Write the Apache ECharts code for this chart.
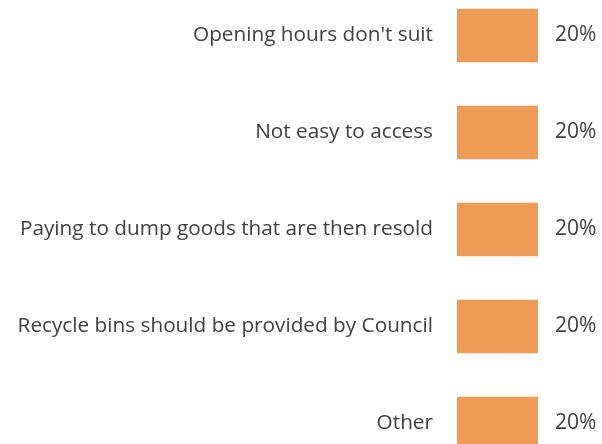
<!DOCTYPE html>
<html>
<head>
<meta charset="utf-8">
<script src="https://cdn.jsdelivr.net/npm/echarts@6/dist/echarts.min.js"></script>
<style>
  html, body { margin: 0; padding: 0; background: #fff; overflow: hidden; }
  #frame { position: relative; width: 602px; height: 444px; overflow: hidden; }
  /* the plot runs a little past the top and bottom edges */
  #chart { position: absolute; left: 0; top: -13px; width: 602px; height: 485px; }
</style>
</head>
<body>
<div id="frame"><div id="chart"></div></div>
<script>
// Reasons given, and the share of respondents citing each (percent)
const categories = [
  "Opening hours don't suit",
  "Not easy to access",
  "Paying to dump goods that are then resold",
  "Recycle bins should be provided by Council",
  "Other"
];
const shares = [20, 20, 20, 20, 20];

const chart = echarts.init(document.getElementById('chart'), null, { renderer: 'canvas' });
chart.setOption({
  animation: false,
  backgroundColor: '#ffffff',
  grid: { left: 457, top: 0, width: 81, bottom: 0, containLabel: false },
  xAxis: {
    type: 'value', min: 0, max: 20, show: false
  },
  yAxis: {
    type: 'category',
    data: categories,
    inverse: true,
    axisLine: { show: false },
    axisTick: { show: false },
    splitLine: { show: false },
    axisLabel: {
      margin: 24,
      color: '#404040',
      fontFamily: 'Open Sans',
      fontSize: 20.75
    }
  },
  series: [{
    type: 'bar',
    data: shares,
    barCategoryGap: '45%',
    itemStyle: { color: '#ED9B55' },
    label: {
      show: true,
      position: 'right',
      distance: 17,
      formatter: p => p.value + '%',
      color: '#404040',
      fontFamily: 'Open Sans',
      fontSize: 21
    }
  }]
});
</script>
</body>
</html>
